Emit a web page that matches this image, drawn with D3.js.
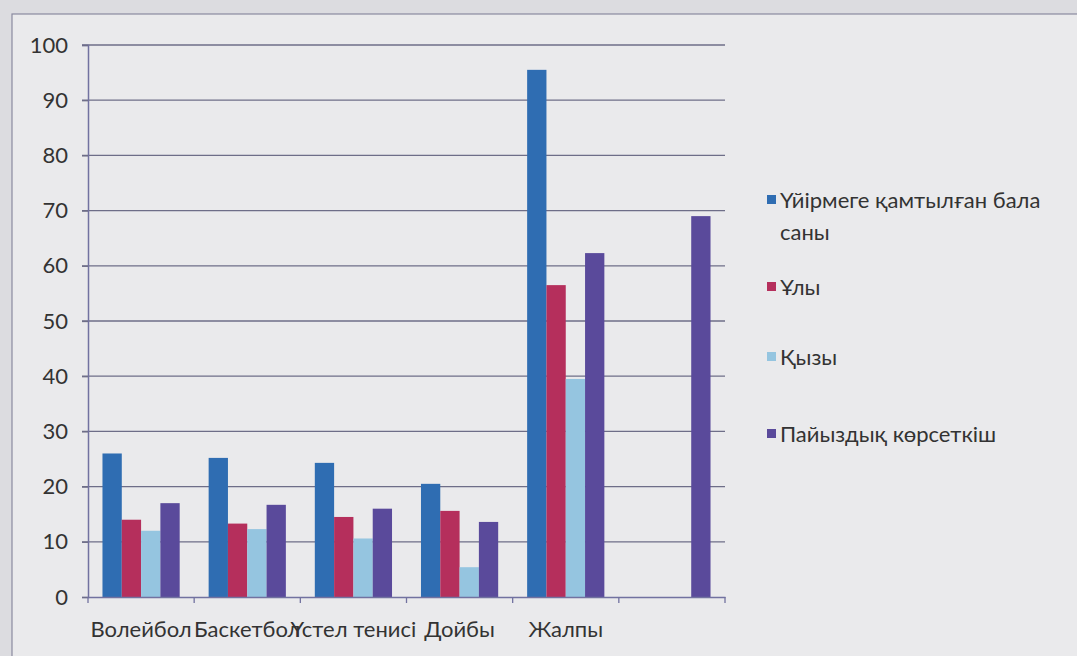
<!DOCTYPE html>
<html>
<head>
<meta charset="utf-8">
<script src="https://cdn.jsdelivr.net/npm/d3@7"></script>
<style>
  html, body { margin: 0; padding: 0; background: #e3e3e6; }
  svg { display: block; }
</style>
</head>
<body>
<svg id="chart" width="1077" height="656"></svg>
<script>
// ---- data ----
const categories = ["Волейбол", "Баскетбол", "Үстел тенисі", "Дойбы", "Жалпы", ""];
const seriesNames = ["Үйірмеге қамтылған бала саны", "Ұлы", "Қызы", "Пайыздық көрсеткіш"];
const seriesColors = ["#2f6db2", "#b52f5c", "#95c5e0", "#5a4a9b"];
const children = [26, 25.2, 24.3, 20.5, 95.5, null];
const boys     = [14, 13.3, 14.5, 15.6, 56.5, null];
const girls    = [12, 12.3, 10.6, 5.4, 39.5, null];
const percent  = [17, 16.7, 16, 13.6, 62.3, 69];
const seriesValues = [children, boys, girls, percent];
const yTicks = [0, 10, 20, 30, 40, 50, 60, 70, 80, 90, 100];

// ---- layout ----
const svg = d3.select("#chart");
const W = 1077, H = 656;
const mLeft = 88, mRight = 725, mTop = 45, mBottom = 597;
const font = "Lato, 'Open Sans', sans-serif";
const fsize = "22px";

// background paper
svg.append("rect").attr("width", W).attr("height", H).attr("fill", "#dcdce0");
svg.append("rect").attr("x", 12).attr("y", 14).attr("width", W).attr("height", H)
  .attr("fill", "#eaeaec").attr("stroke", "#8a8aa0").attr("stroke-width", 1.2);

const x0 = d3.scaleBand().domain(categories.map((c, i) => i)).range([mLeft, mRight]).paddingInner(0).paddingOuter(0);
const x1 = d3.scaleBand().domain(seriesNames.map((s, i) => i)).range([0, x0.bandwidth()]).paddingInner(0).paddingOuter(0.75);
const y = d3.scaleLinear().domain([0, 100]).range([mBottom, mTop]);

// gridlines
svg.append("g").selectAll("line").data(yTicks.filter(t => t > 0)).join("line")
  .attr("x1", mLeft - 6).attr("x2", mRight)
  .attr("y1", d => y(d)).attr("y2", d => y(d))
  .attr("stroke", "#6e6e88").attr("stroke-width", 1.3);

// y axis
const yAxis = d3.axisLeft(y).tickValues(yTicks).tickSize(6).tickPadding(14);
const gy = svg.append("g").attr("transform", `translate(${mLeft},0)`).call(yAxis);
gy.select(".domain").attr("stroke", "#7272a0").attr("stroke-width", 1.5);
gy.selectAll(".tick line").attr("stroke", "#6e6e88").attr("stroke-width", 1.3);
gy.selectAll(".tick text").attr("fill", "#333").style("font-family", font).style("font-size", fsize);

// bars
const groups = svg.append("g").selectAll("g").data(categories.map((c, i) => i)).join("g")
  .attr("transform", i => `translate(${x0(i)},0)`);
groups.selectAll("rect")
  .data(ci => seriesValues.map((arr, si) => ({si, v: arr[ci]})).filter(d => d.v != null))
  .join("rect")
  .attr("x", d => x1(d.si))
  .attr("width", x1.bandwidth())
  .attr("y", d => y(d.v))
  .attr("height", d => y(0) - y(d.v))
  .attr("fill", d => seriesColors[d.si]);

// x axis
const xAxis = d3.axisBottom(x0).tickSize(0).tickFormat(i => categories[i]).tickPadding(24);
const gx = svg.append("g").attr("transform", `translate(0,${mBottom})`).call(xAxis);
gx.select(".domain").attr("stroke", "#7272a0").attr("stroke-width", 1.5);
gx.selectAll(".tick text").attr("fill", "#333").style("font-family", font).style("font-size", fsize);
// category tick marks at boundaries
svg.append("g").selectAll("line").data(d3.range(categories.length + 1)).join("line")
  .attr("x1", i => mLeft + i * x0.step()).attr("x2", i => mLeft + i * x0.step())
  .attr("y1", mBottom).attr("y2", mBottom + 6)
  .attr("stroke", "#7272a0").attr("stroke-width", 1.3);

// legend
const legendY = [200, 287, 357, 434];
const lg = svg.append("g").selectAll("g").data(seriesNames.map((s, i) => i)).join("g")
  .attr("transform", i => `translate(767,${legendY[i]})`);
lg.append("rect").attr("x", 0).attr("y", -5).attr("width", 9).attr("height", 9)
  .attr("fill", i => seriesColors[i]);
const lt = lg.append("text").attr("x", 13).attr("y", 0).attr("dy", "0.35em")
  .attr("fill", "#333").style("font-family", font).style("font-size", fsize);
lt.each(function(i) {
  const t = d3.select(this);
  if (i === 0) {
    t.append("tspan").attr("x", 13).text("Үйірмеге қамтылған бала");
    t.append("tspan").attr("x", 13).attr("dy", 32).text("саны");
  } else {
    t.text(seriesNames[i]);
  }
});
</script>
</body>
</html>
